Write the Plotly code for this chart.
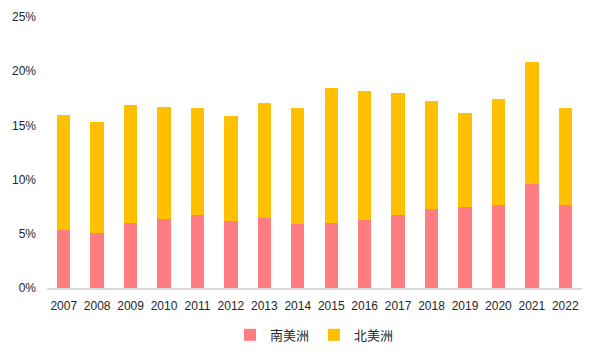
import plotly.graph_objects as go

years = ["2007", "2008", "2009", "2010", "2011", "2012", "2013", "2014",
         "2015", "2016", "2017", "2018", "2019", "2020", "2021", "2022"]
south_america = [5.38, 5.1, 6.0, 6.37, 6.7, 6.15, 6.49, 5.93,
                 6.03, 6.3, 6.7, 7.32, 7.47, 7.69, 9.62, 7.69]
north_america = [10.62, 10.2, 10.9, 10.33, 9.9, 9.72, 10.55, 10.7,
                 12.39, 11.87, 11.32, 9.93, 8.67, 9.75, 11.23, 8.94]
y_ticks = [0, 5, 10, 15, 20, 25]
y_tick_labels = ["0%", "5%", "10%", "15%", "20%", "25%"]

fig = go.Figure()
fig.add_trace(go.Bar(x=years, y=south_america, name="南美洲",
                     marker=dict(color="#FF7C80", line=dict(width=0))))
fig.add_trace(go.Bar(x=years, y=north_america, name="北美洲",
                     marker=dict(color="#FFC000", line=dict(width=0))))

font_family = "Liberation Sans, Noto Sans CJK SC, sans-serif"
fig.update_layout(
    width=590, height=352,
    barmode="stack", bargap=0.6,
    margin=dict(l=39, r=16, t=9, b=72, autoexpand=False),
    plot_bgcolor="white", paper_bgcolor="white",
    font=dict(family=font_family, size=12, color="#262626"),
    showlegend=True,
    legend=dict(orientation="h", x=0.5, xanchor="center", y=-0.173, yanchor="middle",
                traceorder="normal",
                font=dict(size=13, family="Noto Sans CJK SC, sans-serif", color="#262626"),
                itemwidth=30, tracegroupgap=0),
    xaxis=dict(showgrid=False, showline=True, linecolor="#D9D9D9", linewidth=1.5,
               ticks="", tickfont=dict(size=12), fixedrange=True, automargin=False,
               ticklabelstandoff=6),
    yaxis=dict(range=[0, 25], tickvals=y_ticks, ticktext=y_tick_labels, showgrid=False,
               zeroline=False, showline=False, ticks="", tickfont=dict(size=12),
               ticklabelstandoff=10, automargin=False),
)

fig.write_html("out.html")
